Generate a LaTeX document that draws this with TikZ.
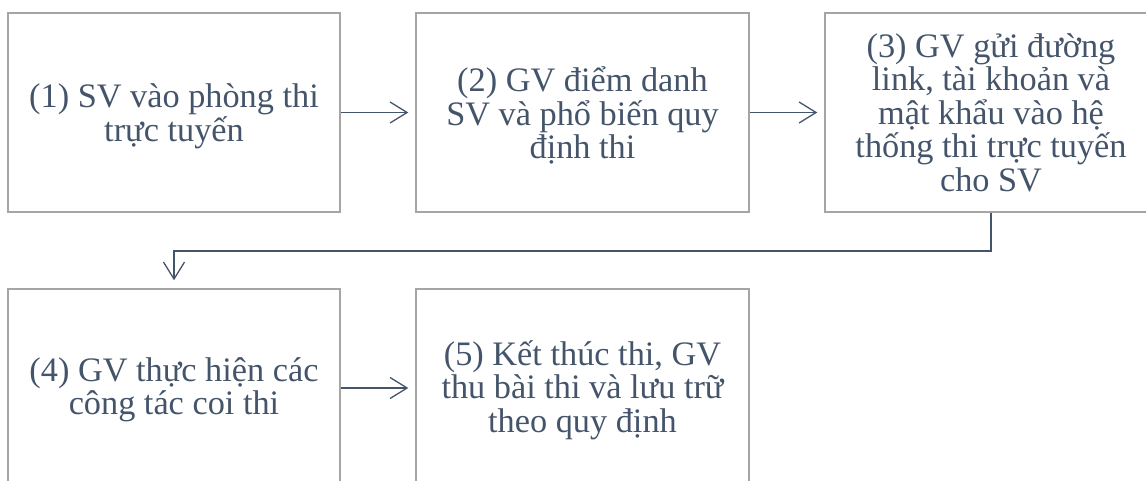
\documentclass[tikz,border=0pt]{standalone}
\usepackage{fontspec}
\setmainfont{Liberation Serif}
\usetikzlibrary{arrows.meta}
\definecolor{txt}{HTML}{44546A}
\definecolor{boxline}{HTML}{A5A5A5}
\tikzset{
  stepbox/.style={draw=boxline, line width=1.4pt, rectangle, inner sep=0pt,
    minimum width=332pt, minimum height=199pt},
  steptext/.style={inner sep=0pt, align=center, text=txt,
    font=\fontsize{34.3}{33.5}\selectfont},
  conn/.style={draw=txt, line width=1.3pt,
    -{Straight Barb[length=17pt,width=21pt,line width=1.3pt]}, shorten >=7pt}
}
\begin{document}
\begin{tikzpicture}[x=1pt,y=-1pt]
\useasboundingbox (0,0) rectangle (1146,481);
\clip (0,0) rectangle (1146,481);
\node[stepbox] (b1) at (174,112.5) {};
\node[stepbox, minimum width=333pt] (b2) at (582.5,112.5) {};
\node[stepbox] (b3) at (991,112.5) {};
\node[stepbox, minimum height=198pt] (b4) at (174,388) {};
\node[stepbox, minimum width=333pt, minimum height=198pt] (b5) at (582.5,388) {};
\node[steptext] (t1) at ([yshift=-4pt]b1.center) {(1) SV vào phòng thi\\trực tuyến};
\node[steptext] (t2) at ([yshift=-3pt]b2.center) {(2) GV điểm danh\\SV và phổ biến quy\\định thi};
\node[steptext] (t3) at ([yshift=0pt]b3.center) {(3) GV gửi đường\\link, tài khoản và\\mật khẩu vào hệ\\thống thi trực tuyến\\cho SV};
\node[steptext] (t4) at ([yshift=-2pt]b4.center) {(4) GV thực hiện các\\công tác coi thi};
\node[steptext] (t5) at ([yshift=-2pt]b5.center) {(5) Kết thúc thi, GV\\thu bài thi và lưu trữ\\theo quy định};
\coordinate (c1) at (991,251);
\coordinate (c2) at (174,251);
\draw[conn] (b1.east) -- (b2.west);
\draw[conn] (b2.east) -- (b3.west);
\draw[conn, shorten >=8pt] (b3.south) -- (c1) -- (c2) -- (b4.north);
\draw[conn] (b4.east) -- (b5.west);
\end{tikzpicture}
\end{document}
